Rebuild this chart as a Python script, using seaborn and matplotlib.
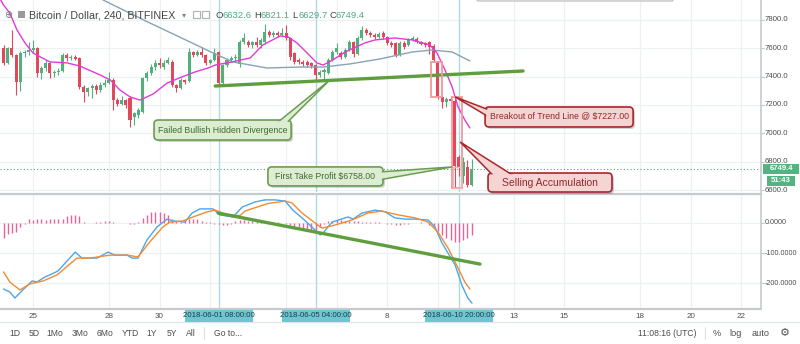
import numpy as np
import pandas as pd
import matplotlib
matplotlib.use("Agg")
import matplotlib.pyplot as plt
import seaborn as sns
from matplotlib.patches import FancyBboxPatch, Rectangle, Polygon

# ---------------- data (4h candles, index 0 = 2018-05-23 20:00 UTC) ----------------
opens = [7600, 7497, 7600, 7553, 7362, 7567, 7574, 7590, 7602, 7426,
         7461, 7497, 7426, 7433, 7440, 7553, 7532, 7540, 7532, 7327,
         7292, 7320, 7334, 7306, 7341, 7355, 7377, 7235, 7210, 7235,
         7250, 7116, 7130, 7151, 7391, 7426, 7468, 7497, 7468, 7497,
         7504, 7341, 7320, 7377, 7370, 7574, 7553, 7574, 7553, 7497,
         7518, 7574, 7355, 7482, 7518, 7532, 7490, 7645, 7645, 7624,
         7645, 7624, 7645, 7715, 7694, 7708, 7694, 7708, 7673, 7567,
         7518, 7504, 7504, 7497, 7482, 7412, 7433, 7426, 7518, 7574,
         7567, 7539, 7588, 7645, 7560, 7673, 7729, 7708, 7694, 7680,
         7708, 7680, 7638, 7638, 7553, 7638, 7624, 7659, 7666, 7645,
         7638, 7645, 7616, 7504, 7257, 7221, 7240, 7228, 6835, 6700,
         6760, 6632.6]
closes = [7497, 7600, 7553, 7362, 7567, 7574, 7590, 7600, 7426, 7461,
          7497, 7426, 7433, 7440, 7553, 7532, 7540, 7525, 7327, 7292,
          7320, 7334, 7306, 7341, 7355, 7377, 7235, 7210, 7235, 7200,
          7094, 7144, 7165, 7391, 7426, 7468, 7497, 7482, 7497, 7518,
          7341, 7320, 7377, 7362, 7574, 7553, 7574, 7553, 7497, 7518,
          7567, 7355, 7482, 7518, 7532, 7540, 7645, 7673, 7624, 7645,
          7624, 7659, 7715, 7694, 7708, 7694, 7708, 7673, 7539, 7504,
          7504, 7490, 7482, 7475, 7412, 7433, 7447, 7518, 7574, 7602,
          7539, 7588, 7645, 7560, 7673, 7729, 7708, 7694, 7680, 7700,
          7680, 7638, 7624, 7553, 7638, 7609, 7659, 7673, 7645, 7631,
          7624, 7609, 7518, 7257, 7221, 7240, 7228, 6770, 6760, 6800,
          6633, 6749.4]
highs = [7620, 7610, 7729, 7560, 7580, 7590, 7645, 7659, 7610, 7475,
         7520, 7505, 7450, 7460, 7570, 7570, 7550, 7555, 7540, 7340,
         7330, 7350, 7345, 7360, 7380, 7433, 7390, 7250, 7260, 7245,
         7260, 7150, 7180, 7400, 7440, 7490, 7520, 7530, 7515, 7540,
         7520, 7345, 7390, 7385, 7600, 7580, 7590, 7610, 7560, 7525,
         7600, 7580, 7490, 7530, 7545, 7560, 7660, 7708, 7660, 7655,
         7680, 7670, 7771, 7730, 7720, 7725, 7740, 7765, 7680, 7575,
         7530, 7515, 7515, 7505, 7490, 7445, 7460, 7530, 7590, 7640,
         7580, 7600, 7660, 7655, 7690, 7755, 7740, 7720, 7705, 7715,
         7720, 7690, 7650, 7645, 7650, 7650, 7670, 7685, 7680, 7655,
         7645, 7655, 7630, 7510, 7265, 7255, 7262, 7240, 6850, 6835,
         6810, 6821.1]
lows = [7480, 7490, 7540, 7271, 7300, 7540, 7550, 7570, 7400, 7380,
        7440, 7390, 7400, 7410, 7430, 7510, 7520, 7515, 7310, 7221,
        7260, 7250, 7280, 7290, 7330, 7350, 7165, 7190, 7200, 7180,
        7045, 7059, 7110, 7140, 7370, 7410, 7450, 7460, 7455, 7490,
        7330, 7290, 7310, 7350, 7360, 7540, 7545, 7540, 7480, 7490,
        7510, 7340, 7350, 7470, 7500, 7510, 7470, 7630, 7610, 7600,
        7610, 7600, 7630, 7680, 7680, 7680, 7685, 7660, 7520, 7490,
        7490, 7475, 7470, 7460, 7377, 7395, 7384, 7420, 7510, 7560,
        7525, 7530, 7580, 7540, 7550, 7660, 7695, 7680, 7665, 7670,
        7665, 7625, 7610, 7540, 7545, 7595, 7615, 7650, 7635, 7620,
        7610, 7560, 7500, 7240, 7180, 7185, 7200, 6615, 6700, 6650,
        6620, 6629.7]

fast_ma_idx = [-1, 0, 1.5, 3.2, 5.1, 7, 11, 15.1, 18.1, 22.9, 25.3, 27.6, 30, 32.4,
               35.5, 38.8, 42.3, 45.4, 48.5, 50.2, 54.2, 58.5, 61.5, 65.6, 67.5,
               69.6, 72, 74.3, 75.8, 78.1, 81, 85.7, 88.1, 92.8, 96.9, 101.1,
               102.8, 104.7, 106.4, 107.8, 109.4, 110.6]
fast_ma_val = [7960, 7906, 7849, 7729, 7638, 7567, 7504, 7497, 7475, 7412, 7377, 7306,
               7257, 7235, 7278, 7355, 7398, 7433, 7461, 7482, 7504, 7532, 7624,
               7687, 7680, 7638, 7567, 7497, 7482, 7518, 7574, 7638, 7659, 7673,
               7659, 7624, 7567, 7447, 7327, 7186, 7094, 7038]
slow_ma_idx = [20, 23.6, 34.7, 44.2, 49.7, 54.4, 62.5, 70.3, 75.8, 82.2, 89.3,
               96.9, 101.6, 106.4, 110.6]
slow_ma_val = [8050, 7941, 7779, 7645, 7567, 7504, 7461, 7468, 7468, 7490, 7525,
               7574, 7588, 7574, 7511]

macd_idx = [0, 1.5, 2.7, 4.6, 6.8, 7.9, 9.8, 11.0, 12.9, 17.0, 18.6, 22.2, 24.8,
            26.4, 29.3, 30.5, 31.9, 34.0, 36.4, 38.8, 40.2, 43.0, 44.7, 46.6, 49.7,
            51.3, 54.4, 56.6, 59.6, 62.0, 64.4, 66.8, 68.6, 70.8, 73.4, 75.1, 75.8,
            77.9, 81.7, 82.9, 85.0, 88.1, 90.5, 92.8, 95.2, 97.6, 100.7, 102.3,
            104.0, 105.4, 107.1, 108.7, 110.1, 111.1]
macd_val = [-220, -230, -250, -223, -193, -197, -180, -173, -160, -97, -117, -117,
            -97, -107, -107, -117, -117, -57, -13, 13, 7, 3, 33, 47, 47, 27, 20, 53,
            70, 77, 77, 73, 43, 17, -17, -40, -33, 3, 20, 13, 33, 43, 37, 17, 13, 13,
            10, -13, -67, -100, -140, -207, -250, -267]
signal_idx = [0, 1.5, 3.9, 6.3, 9.4, 12.7, 17.4, 20.5, 25.3, 29.3, 31.9, 34.7, 37.8,
              39.5, 42.6, 44.9, 48.3, 50.2, 53.0, 56.1, 57.3, 62.7, 66.8, 68.4, 70.8,
              75.5, 78.6, 82.6, 86.4, 89.7, 93.6, 97.6, 100.7, 103.0, 105.4, 107.8,
              109.4, 110.6]
signal_val = [-163, -197, -223, -203, -193, -173, -117, -117, -107, -107, -113, -63,
              -13, 3, 7, 20, 37, 43, 27, 25, 40, 65, 73, 67, 33, -17, -7, 10, 33, 40,
              27, 17, 3, -30, -83, -150, -197, -220]
hist_val = [-50, -38, -32, -30, -12, -3,
            12, 10, 14, 12, 10, 13, 14, 12, 14, 22, 25, 25, 22,
            3,
            0, 1, 2, 3, 5, 6, 3, 1, 0, -1, -3, -3,
            3, 15, 25, 35, 38, 36, 32, 25, 12, 5, 3, 8, 12, 14, 12, 8, 4, 2, -2, -5, -8, -8, -5,
            8, 10, 9, 8, 7, 6, 5, 5, 4, 3, 2, 0, -3,
            -8, -12, -15, -20, -25, -28, -25, -15, -5,
            5, 8, 10, 10, 8, 6, 5, 5, 3, 2, 2, 3, 2, 1,
            -3, -5, -8, -7, -5, -3, 1, 1, 2, 0,
            -8, -15, -28, -40, -50, -57, -65, -62, -58, -50, -40]

day_tick_idx = [7, 25, 37, 49, 67, 79, 91, 103, 121, 133, 151, 163, 175]
day_tick_lbl = ["25", "28", "30", "", "", "", "8", "", "13", "15", "18", "20", "22"]
price_ticks = [6600, 6800, 7000, 7200, 7400, 7600, 7800]
macd_ticks = [0, -100, -200]
crosshair_idx = [51, 74, 108]
crosshair_lbl = ["2018-06-01 08:00:00", "2018-06-05 04:00:00", "2018-06-10 20:00:00"]
last_price = 6749.4
ohlc_legend = [("O", "6632.6"), ("H", "6821.1"), ("L", "6629.7"), ("C", "6749.4")]
trend_price_idx = [50.2, 123.2]
trend_price_val = [7334, 7440]
trend_macd_idx = [50.9, 113.0]
trend_macd_val = [33, -137]

# ---------------- style ----------------
sns.set_theme(style="white")
plt.rcParams["font.family"] = ["Liberation Sans", "DejaVu Sans"]

W, H = 800, 344
fig = plt.figure(figsize=(W / 100, H / 100), dpi=100)
fig.patch.set_facecolor("white")


def px_axes(x0, y0, x1, y1, **kw):
    return fig.add_axes([x0 / W, 1 - y1 / H, (x1 - x0) / W, (y1 - y0) / H], **kw)


UP, DOWN = "#53b07c", "#e2485c"
GRID = "#eef1f4"
XLIM = (-0.83, 179.63)
YLIM = (6586, 7941)
MLIM = (-283.3, 93.3)

ax = px_axes(0, 0, 761, 192)
axm = px_axes(0, 195, 761, 308)
for a in (ax, axm):
    a.set_facecolor("white")
    for s in a.spines.values():
        s.set_visible(False)

# grid
for t in day_tick_idx:
    ax.axvline(t, color=GRID, lw=0.9, zorder=0)
    axm.axvline(t, color=GRID, lw=0.9, zorder=0)
for p in price_ticks:
    ax.axhline(p, color=GRID, lw=0.9, zorder=0)
for v in macd_ticks:
    axm.axhline(v, color=GRID, lw=0.9, zorder=0)

# crosshair-like vertical marks
for c in crosshair_idx:
    ax.axvline(c, color="#a9dbe3", lw=1.0, zorder=1)
    axm.axvline(c, color="#a9dbe3", lw=1.0, zorder=1)

# candles
df = pd.DataFrame({"i": np.arange(len(opens)), "o": opens, "c": closes, "h": highs, "l": lows})
up = df["c"] >= df["o"]
cols = np.where(up, UP, DOWN)
ax.vlines(df["i"], df["l"], df["h"], colors=cols, lw=0.8, zorder=3)
body = (df["c"] - df["o"]).abs().clip(lower=6)
ax.bar(df["i"], body, bottom=np.minimum(df["o"], df["c"]), width=0.72, color=cols,
       linewidth=0, zorder=4)

# moving averages
sns.lineplot(x=slow_ma_idx, y=slow_ma_val, ax=ax, color="#86a3b8", lw=1.0, zorder=5)
sns.lineplot(x=fast_ma_idx, y=fast_ma_val, ax=ax, color="#e23ad6", lw=1.0, zorder=5)

# last price dotted line
ax.axhline(last_price, color="#5aa57c", lw=0.8, ls=(0, (1, 2)), zorder=2)

# trend line
sns.lineplot(x=trend_price_idx, y=trend_price_val, ax=ax, color="#5f9e3c", lw=2.4, zorder=6)

# drawn rectangles around the breakdown
ax.add_patch(Rectangle((101.4, 7257), 2.6, 7504 - 7257, fill=False, ec="#f09a9a", lw=1.3, zorder=7))
ax.add_patch(Rectangle((106.4, 6614), 2.3, 7257 - 6614, fill=False, ec="#f09a9a", lw=1.3, zorder=7))
ax.add_patch(Rectangle((106.7, 6614), 1.7, 6763 - 6614, fill=False, ec="#f4b4b4", lw=1.0, zorder=7))

# MACD pane
axm.vlines(np.arange(len(hist_val)), 0, hist_val, colors="#e5649c", lw=1.0, zorder=3)
sns.lineplot(x=macd_idx, y=macd_val, ax=axm, color="#4da6ea", lw=1.0, zorder=4)
sns.lineplot(x=signal_idx, y=signal_val, ax=axm, color="#f38b2f", lw=1.0, zorder=4)
sns.lineplot(x=trend_macd_idx, y=trend_macd_val, ax=axm, color="#5f9e3c", lw=2.4, zorder=5)
for a in (ax, axm):
    a.set_xlabel("")
    a.set_ylabel("")
    a.set_xticks([])
    a.set_yticks([])
    leg = a.get_legend()
    if leg:
        leg.remove()
    a.set_xlim(*XLIM)
ax.set_ylim(*YLIM)
axm.set_ylim(*MLIM)


def to_px(axis, x, y):
    X, Y = axis.transData.transform((x, y))
    return X, H - Y


# ---------------- overlay (frame, labels, callouts) ----------------
ov = fig.add_axes([0, 0, 1, 1], zorder=10)
ov.set_xlim(0, W)
ov.set_ylim(H, 0)
ov.axis("off")
ov.patch.set_alpha(0)

LINE = "#c6cacf"
ov.plot([0, 761], [193.5, 193.5], color=LINE, lw=1.6)
ov.plot([0, 761], [308.7, 308.7], color=LINE, lw=1.6)
ov.plot([761, 761], [0, 309], color=LINE, lw=1.2)
ov.plot([0, 800], [322, 322], color="#e3e6ea", lw=1.0)

# price scale
TXT = "#4d4d4d"
for p in price_ticks:
    x, y = to_px(ax, XLIM[1], p)
    ov.plot([761, 764], [y, y], color=LINE, lw=0.8)
    ov.text(765, y, f"{p:.1f}", fontsize=5.6, color=TXT, va="center", ha="left")
for v in macd_ticks:
    x, y = to_px(axm, XLIM[1], v)
    ov.plot([761, 764], [y, y], color=LINE, lw=0.8)
    ov.text(765, y, f"{v:.4f}", fontsize=5.2, color=TXT, va="center", ha="left")

# last price tags
_, yl = to_px(ax, XLIM[1], last_price)
ov.add_patch(Rectangle((763, yl - 5), 36, 10, fc="#55b382", ec="none", zorder=30))
ov.text(781, yl, f"{last_price:.1f}", fontsize=5.6, color="white", ha="center", va="center",
        zorder=31, fontweight="bold")
ov.add_patch(Rectangle((767, yl + 7), 28, 10, fc="#55b382", ec="none", zorder=30))
ov.text(781, yl + 12, "51:43", fontsize=5.6, color="white", ha="center", va="center", zorder=31,
        fontweight="bold")

# time axis
for t, lbl in zip(day_tick_idx, day_tick_lbl):
    if not lbl:
        continue
    x, _ = to_px(ax, t, 7000)
    ov.text(x, 316, lbl, fontsize=5.8, color=TXT, ha="center", va="center")
for c, lbl in zip(crosshair_idx, crosshair_lbl):
    x, _ = to_px(ax, c, 7000)
    ov.add_patch(Rectangle((x - 34, 309.5), 68, 12, fc="#6ec6d2", ec="none", zorder=20))
    ov.text(x, 315.8, lbl, fontsize=5.6, color="#1f3c44", ha="center", va="center", zorder=21)

# bottom toolbar
for xx, s in [(15, "1D"), (34, "5D"), (55, "1Mo"), (80, "3Mo"), (105, "6Mo"), (130, "YTD"),
              (152, "1Y"), (172, "5Y"), (191, "All"), (228, "Go to...")]:
    ov.text(xx, 333, s, fontsize=6.2, color=TXT, ha="center", va="center")
ov.plot([204, 204], [327, 339], color="#dde0e4", lw=0.8)
ov.plot([705, 705], [327, 339], color="#dde0e4", lw=0.8)
ov.text(667, 333, "11:08:16 (UTC)", fontsize=6.2, color=TXT, ha="center", va="center")
ov.text(717, 333, "%", fontsize=6.6, color=TXT, ha="center", va="center")
ov.text(736, 333, "log", fontsize=6.6, color=TXT, ha="center", va="center")
ov.text(761, 333, "auto", fontsize=6.6, color=TXT, ha="center", va="center")
ov.text(785, 333, "\u2699", fontsize=8, color="#555555", ha="center", va="center",
        family=["DejaVu Sans"])

# top-left legend
ov.text(8, 15, "\u2295", fontsize=7, color="#777777", ha="center", va="center", family=["DejaVu Sans"])
ov.add_patch(Rectangle((18, 11), 7, 7, fc="#9a9a9a", ec="none"))
ov.text(29, 15, "Bitcoin / Dollar, 240, BITFINEX", fontsize=7.7, color="#444444",
        ha="left", va="center")
ov.text(184, 15, "\u25be", fontsize=6, color="#888888", ha="center", va="center",
        family=["DejaVu Sans"])
ov.add_patch(Rectangle((193, 11), 7, 7, fc="none", ec="#b0b0b0", lw=0.8))
ov.add_patch(Rectangle((202, 11), 7, 7, fc="none", ec="#b0b0b0", lw=0.8))
for (k, v), xx in zip(ohlc_legend, [216, 254, 292, 329]):
    ov.text(xx, 15, k, fontsize=6.8, color="#444444", ha="left", va="center")
    ov.text(xx + 6.8, 15, v, fontsize=6.8, color="#53a97c", ha="left", va="center")

# cut-off popup frame at the top
ov.add_patch(FancyBboxPatch((476, -12), 198, 13, boxstyle="round,pad=0,rounding_size=3",
                            fc="white", ec="#c4c4c4", lw=1.0, zorder=15))


def callout(axis, box, base, tip, text, fc, ec, tc, fs, r=4):
    (bx0, by0), (bx1, by1) = to_px(axis, box[0], box[3]), to_px(axis, box[1], box[2])
    b1 = to_px(axis, *base[0])
    b2 = to_px(axis, *base[1])
    tp = to_px(axis, *tip)
    w, h = bx1 - bx0, by1 - by0
    st = f"round,pad=0,rounding_size={r}"
    ov.add_patch(FancyBboxPatch((bx0 + 2, by0 + 2), w, h, boxstyle=st, fc="#000000",
                                ec="none", alpha=0.18, zorder=20))
    ov.add_patch(FancyBboxPatch((bx0, by0), w, h, boxstyle=st, fc=fc, ec=ec, lw=1.2, zorder=21))
    ov.add_patch(Polygon([b1, tp, b2], closed=True, fc=fc, ec=ec, lw=1.1, zorder=22))
    ov.add_patch(FancyBboxPatch((bx0 + 1.2, by0 + 1.2), w - 2.4, h - 2.4, boxstyle=st, fc=fc,
                                ec="none", zorder=23))
    ov.text(bx0 + w / 2, by0 + h / 2, text, fontsize=fs, color=tc, ha="center", va="center",
            zorder=24)


RED_FC, RED_EC, RED_TC = "#f7d4d4", "#a8262c", "#8e2a2a"
GRN_FC, GRN_EC, GRN_TC = "#dcedd2", "#6c9c52", "#3f6b30"

callout(ax, (114.2, 149.3, 7045, 7186), [(115.4, 7162), (115.4, 7110)], (107.1, 7257),
        "Breakout of Trend Line @ $7227.00", RED_FC, RED_EC, RED_TC, 6.3)
callout(ax, (114.9, 144.3, 6586, 6720), [(116.2, 6700), (121.0, 6700)], (108.3, 6939),
        "Selling Accumulation", RED_FC, RED_EC, RED_TC, 7.5)
callout(ax, (62.7, 90.0, 6629, 6763), [(89.0, 6727), (89.0, 6671)], (106.4, 6763),
        "First Take Profit $6758.00", GRN_FC, GRN_EC, GRN_TC, 6.3)
callout(ax, (35.7, 68.2, 6953, 7094), [(64.9, 7075), (67.2, 7075)], (77.4, 7377),
        "Failed Bullish Hidden Divergence", GRN_FC, GRN_EC, GRN_TC, 6.3)

fig.savefig("out.png", dpi=100, facecolor="white")
